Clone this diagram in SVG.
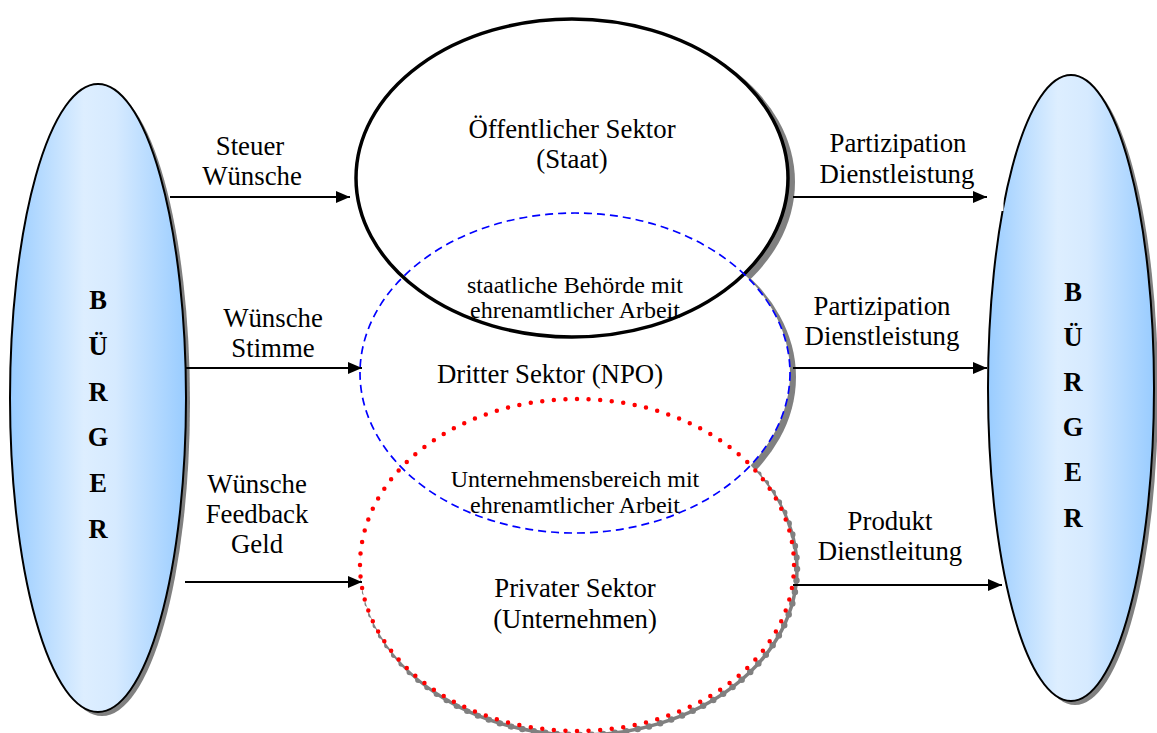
<svg xmlns="http://www.w3.org/2000/svg" width="1157" height="733" viewBox="0 0 1157 733">
  <defs>
    <linearGradient id="citizenFill" x1="0" y1="0" x2="1" y2="0">
      <stop offset="0" stop-color="#99CCFF"/>
      <stop offset="0.42" stop-color="#DDEEFF"/>
      <stop offset="0.6" stop-color="#D6EAFF"/>
      <stop offset="1" stop-color="#99CCFF"/>
    </linearGradient>
    <marker id="arrow" viewBox="0 0 14 12" refX="14" refY="6" markerWidth="14" markerHeight="12" markerUnits="userSpaceOnUse" orient="auto">
      <path d="M0,0 L14,6 L0,12 Z" fill="#000"/>
    </marker>
    <style>
      .lbl { font-size: 26.8px; text-anchor: middle; }
      .sm { font-size: 24px; text-anchor: middle; }
      .letters { font-size: 26.5px; font-weight: bold; text-anchor: middle; }
      .shadow { fill: #808080; stroke: none; }
      .citizen { fill: url(#citizenFill); stroke: #000; stroke-width: 2; }
      .conn { stroke: #000; stroke-width: 2; fill: none; marker-end: url(#arrow); }
    </style>
  </defs>

  <rect width="1157" height="733" fill="#fff"/>

  <g font-family="'Liberation Serif', 'Times New Roman', serif" fill="#000">

  <!-- citizens, left -->
  <g id="buerger-left">
    <ellipse class="shadow" cx="102" cy="402" rx="88" ry="314"/>
    <ellipse class="citizen" cx="98" cy="398" rx="88" ry="314"/>
    <text class="letters" x="98" y="309">B</text>
    <text class="letters" x="98" y="355">Ü</text>
    <text class="letters" x="98" y="401">R</text>
    <text class="letters" x="98" y="446">G</text>
    <text class="letters" x="98" y="492">E</text>
    <text class="letters" x="98" y="538">R</text>
  </g>

  <!-- citizens, right -->
  <g id="buerger-right">
    <ellipse class="shadow" cx="1075" cy="392" rx="83" ry="313"/>
    <ellipse class="citizen" cx="1071" cy="388" rx="83" ry="313"/>
    <!-- small break in the outline beside the top arrow -->
    <rect x="999.5" y="197" width="4" height="14" fill="#fff"/>
    <text class="letters" x="1073" y="301">B</text>
    <text class="letters" x="1073" y="346">Ü</text>
    <text class="letters" x="1073" y="391">R</text>
    <text class="letters" x="1073" y="436">G</text>
    <text class="letters" x="1073" y="481">E</text>
    <text class="letters" x="1073" y="527">R</text>
  </g>

  <!-- sector shadows, then white bodies, then outlines -->
  <g id="sector-shadows">
    <ellipse class="shadow" cx="578" cy="182" rx="217" ry="160"/>
    <ellipse class="shadow" cx="580" cy="377" rx="216" ry="161"/>
    <ellipse cx="580" cy="569" rx="217" ry="166" fill="none" stroke="#808080" stroke-width="3.5"/>
    <ellipse cx="580" cy="569" rx="217" ry="166" fill="none" stroke="#808080" stroke-width="6.5" stroke-linecap="round" pathLength="104" stroke-dasharray="0 1"/>
  </g>
  <g id="sector-bodies" fill="#fff">
    <ellipse cx="572" cy="178" rx="216" ry="159"/>
    <ellipse cx="575" cy="373" rx="215" ry="160"/>
    <ellipse cx="577" cy="565" rx="217" ry="166"/>
  </g>

  <g id="oeffentlicher-sektor">
    <ellipse cx="572" cy="178" rx="216" ry="159" fill="none" stroke="#000" stroke-width="3.5"/>
    <text class="lbl" x="572" y="138">Öffentlicher Sektor</text>
    <text class="lbl" x="572" y="168">(Staat)</text>
  </g>

  <g id="dritter-sektor">
    <ellipse cx="575" cy="373" rx="215" ry="160" fill="none" stroke="#0000FF" stroke-width="1.7" stroke-dasharray="8 5"/>
    <text class="lbl" x="550" y="383">Dritter Sektor (NPO)</text>
  </g>

  <g id="privater-sektor">
    <ellipse cx="577" cy="565" rx="217" ry="166" fill="none" stroke="#FF0000" stroke-width="4.5" stroke-linecap="round" pathLength="104" stroke-dasharray="0 1"/>
    <text class="lbl" x="575" y="597">Privater Sektor</text>
    <text class="lbl" x="575" y="628">(Unternehmen)</text>
  </g>

  <!-- overlap areas -->
  <g id="staat-npo">
    <text class="sm" x="575" y="293">staatliche Behörde mit</text>
    <text class="sm" x="575" y="318">ehrenamtlicher Arbeit</text>
  </g>
  <g id="npo-unternehmen">
    <text class="sm" x="575" y="487">Unternehmensbereich mit</text>
    <text class="sm" x="575" y="513">ehrenamtlicher Arbeit</text>
  </g>

  <!-- connectors with their labels -->
  <g id="connectors">
    <line class="conn" x1="170" y1="197" x2="350" y2="197"/>
    <line class="conn" x1="186" y1="368" x2="362" y2="368"/>
    <line class="conn" x1="185" y1="582" x2="362" y2="582"/>
    <line class="conn" x1="793" y1="197" x2="987" y2="197"/>
    <line class="conn" x1="793" y1="368" x2="987" y2="368"/>
    <line class="conn" x1="793" y1="585" x2="1002" y2="585"/>

    <text class="lbl" x="250" y="155">Steuer</text>
    <text class="lbl" x="252" y="185">Wünsche</text>

    <text class="lbl" x="273" y="327">Wünsche</text>
    <text class="lbl" x="273" y="357">Stimme</text>

    <text class="lbl" x="257" y="493">Wünsche</text>
    <text class="lbl" x="257" y="523">Feedback</text>
    <text class="lbl" x="257" y="553">Geld</text>

    <text class="lbl" x="898" y="152">Partizipation</text>
    <text class="lbl" x="897" y="183">Dienstleistung</text>

    <text class="lbl" x="882" y="315">Partizipation</text>
    <text class="lbl" x="882" y="345">Dienstleistung</text>

    <text class="lbl" x="890" y="530">Produkt</text>
    <text class="lbl" x="890" y="560">Dienstleitung</text>
  </g>

  </g>
</svg>
